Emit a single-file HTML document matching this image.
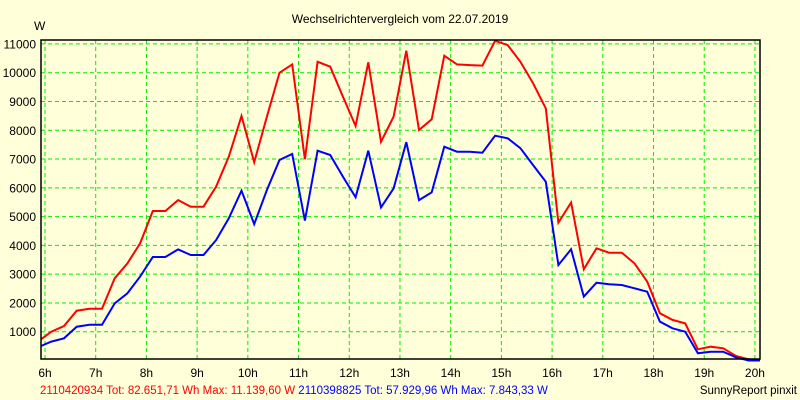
<!DOCTYPE html>
<html><head><meta charset="utf-8"><style>
body{margin:0;background:#FFFFD9;}
svg{display:block;font-family:"Liberation Sans",sans-serif;}
</style></head><body>
<svg id="chart" width="800" height="400">
<rect width="800" height="400" fill="#FFFFD9"/>
<text x="400" y="23" text-anchor="middle" font-size="12" fill="#000">Wechselrichtervergleich vom 22.07.2019</text>
<text x="34" y="30" font-size="12" fill="#000">W</text>
<g id="grid"></g>
<g id="series"></g>
<rect x="41" y="40" width="719" height="319" fill="none" stroke="#000" stroke-width="1.5"/>
<g id="ticks"></g>
<text x="40" y="394" font-size="11.5"><tspan fill="#FF0000">2110420934 Tot: 82.651,71 Wh Max: 11.139,60 W </tspan><tspan fill="#0000FF">2110398825 Tot: 57.929,96 Wh Max: 7.843,33 W</tspan></text>
<text x="797" y="394" text-anchor="end" font-size="11.5" fill="#000">SunnyReport pinxit</text>
</svg>
<script>
const hourTicks=[6,7,8,9,10,11,12,13,14,15,16,17,18,19,20];
const valueTicks=[1000,2000,3000,4000,5000,6000,7000,8000,9000,10000,11000];
const startHour=5.875;
const stepHour=0.25;
const redValues=[737,1000,1200,1730,1800,1800,2855,3375,4070,5195,5195,5575,5345,5345,6040,7080,8495,6885,8470,10000,10290,6990,10380,10210,9170,8150,10360,7600,8470,10765,8010,8380,10590,10290,10265,10245,11110,10960,10380,9630,8760,4790,5485,3170,3900,3745,3745,3375,2740,1640,1410,1290,390,480,425,155,40,0];
const blueValues=[503,655,770,1175,1245,1245,1985,2335,2915,3595,3595,3860,3665,3665,4185,4940,5900,4740,5925,6965,7175,4860,7290,7140,6390,5670,7290,5320,5980,7590,5575,5845,7430,7255,7255,7220,7810,7720,7375,6790,6210,3320,3865,2220,2705,2650,2625,2510,2390,1350,1120,1000,250,305,305,110,0,0];
const NS='http://www.w3.org/2000/svg';
function xs(h){return Math.max(41,Math.min(760,45+(h-6)*50.71));}
function ys(v){return 360.5-v*0.02878;}
const grid=document.getElementById('grid'),ticks=document.getElementById('ticks'),series=document.getElementById('series');
hourTicks.forEach(h=>{
  const l=document.createElementNS(NS,'line');
  l.setAttribute('x1',xs(h));l.setAttribute('x2',xs(h));l.setAttribute('y1',40);l.setAttribute('y2',359);
  l.setAttribute('stroke','#00EE00');l.setAttribute('stroke-dasharray','4,3');
  
  
  grid.appendChild(l);
  const t=document.createElementNS(NS,'text');
  t.setAttribute('x',xs(h));t.setAttribute('y',377);t.setAttribute('text-anchor','middle');t.setAttribute('font-size','12');
  t.textContent=h+'h';
  
  
  ticks.appendChild(t);
});
valueTicks.forEach(v=>{
  const l=document.createElementNS(NS,'line');
  l.setAttribute('x1',41);l.setAttribute('x2',760);l.setAttribute('y1',ys(v));l.setAttribute('y2',ys(v));
  l.setAttribute('stroke','#00EE00');l.setAttribute('stroke-dasharray','4,3');
  
  
  grid.appendChild(l);
  const t=document.createElementNS(NS,'text');
  t.setAttribute('x',36);t.setAttribute('y',ys(v)+4.5);t.setAttribute('text-anchor','end');t.setAttribute('font-size','12');
  t.textContent=v;
  
  
  ticks.appendChild(t);
});
function drawLine(vals,color,name){
  const p=vals.map((v,i)=>xs(startHour+i*stepHour).toFixed(1)+','+ys(v).toFixed(1)).join(' ');
  const pl=document.createElementNS(NS,'polyline');
  pl.setAttribute('points',p);pl.setAttribute('fill','none');pl.setAttribute('stroke',color);pl.setAttribute('stroke-width','2');
  
  
  series.appendChild(pl);
}
drawLine(redValues,'#FF0000','series-2110420934');
drawLine(blueValues,'#0000FF','series-2110398825');
</script>
</body></html>
